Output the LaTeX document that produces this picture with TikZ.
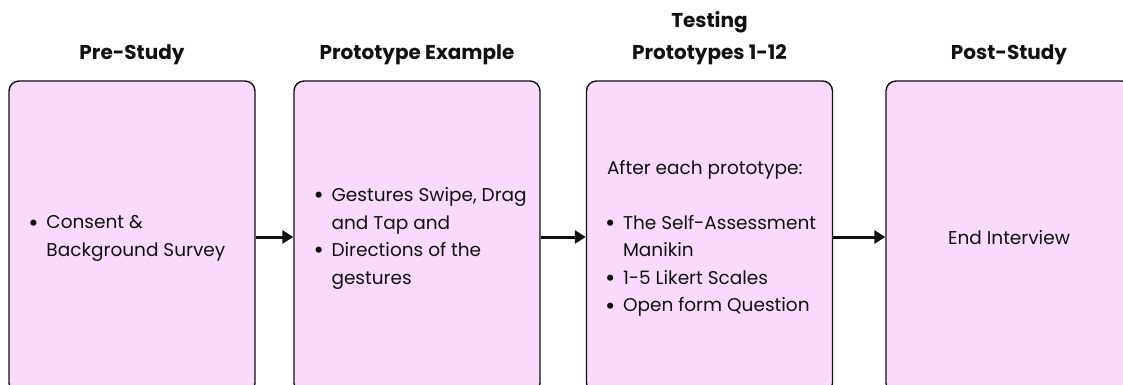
\documentclass[tikz,border=0pt]{standalone}
\usepackage{fontspec}
\usepackage{graphicx}
\setmainfont{Poppins}
\usetikzlibrary{arrows.meta,calc}
\definecolor{phasefill}{HTML}{F8DAFB}
\definecolor{ink}{HTML}{111111}
\tikzset{
  phase/.style={draw=ink, line width=1.4pt, fill=phasefill, rounded corners=10pt,
    minimum width=246pt, minimum height=312pt, inner sep=0pt},
  title/.style={font=\fontsize{20}{32}\selectfont\bfseries, text=ink, align=center},
  body/.style={font=\fontsize{18.5}{27.5}\selectfont, text=ink, anchor=west, inner sep=0pt, align=left},
  flow/.style={draw=ink, line width=3pt, -{Triangle[length=11pt,width=13pt]}}
}
\newcommand{\bl}{\makebox[16pt][l]{\hspace{-2pt}\raisebox{-2.2pt}{\scalebox{1.35}{\textbullet}}}}
\newcommand{\ind}{\hspace*{16pt}}
\begin{document}
\begin{tikzpicture}[x=1pt,y=-1pt]
  \useasboundingbox (0,0) rectangle (1123,385);
  \clip (0,0) rectangle (1123,385);
  % phases
  \node[phase] (b1) at (132,237) {};
  \node[phase] (b2) at (417,237) {};
  \node[phase] (b3) at (709.5,237) {};
  \node[phase] (b4) at (1009,237) {};
  % titles
  \node[title] (t1) at (132,55) {Pre-Study};
  \node[title] (t2) at (417,55) {Prototype Example};
  \node[title] (t3) at (709.5,38) {Testing\\Prototypes 1-12};
  \node[title] (t4) at (1009,55) {Post-Study};
  % contents
  \node[body] (c1) at ($(b1.west)+(22,1.5)$) {\bl Consent \&\\\ind Background Survey};
  \node[body] (c2) at ($(b2.west)+(22,1.5)$) {\bl Gestures Swipe, Drag\\\ind and Tap and\\\bl Directions of the\\\ind gestures};
  \node[body] (c3) at ($(b3.west)+(21,1.5)$) {After each prototype:\\[27.5pt]\bl The Self-Assessment\\\ind Manikin\\\bl 1-5 Likert Scales\\\bl Open form Question};
  \node[body, anchor=center] (c4) at ($(b4.center)+(0,1)$) {End Interview};
  % connectors
  \draw[flow] (b1.east) -- (b2.west);
  \draw[flow] (b2.east) -- (b3.west);
  \draw[flow] (b3.east) -- (b4.west);
\end{tikzpicture}
\end{document}
